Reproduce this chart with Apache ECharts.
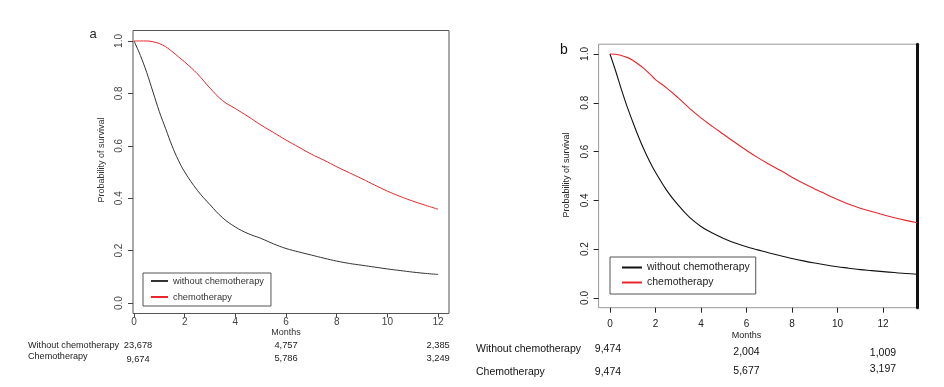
<!DOCTYPE html>
<html><head><meta charset="utf-8">
<script src="https://cdn.jsdelivr.net/npm/echarts@6/dist/echarts.min.js"></script>
<style>html,body{margin:0;padding:0;background:#fff}#c{width:944px;height:387px}</style>
</head><body><div id="c"></div>
<script>
// ---------- data ----------
const monthsA = [0,0.25,0.5,0.75,1,1.25,1.5,1.75,2,2.5,3,3.5,4,4.5,5,5.5,6,6.5,7,7.5,8,8.5,9,9.5,10,10.5,11,11.5,12];
const withoutA = [1.0,0.945,0.88,0.805,0.73,0.665,0.60,0.545,0.50,0.43,0.375,0.325,0.29,0.265,0.247,0.226,0.208,0.195,0.183,0.171,0.16,0.151,0.144,0.137,0.13,0.124,0.118,0.113,0.109];
const chemoA   = [1.0,1.0,1.0,0.997,0.99,0.978,0.96,0.94,0.92,0.875,0.82,0.772,0.742,0.712,0.68,0.651,0.622,0.595,0.568,0.545,0.52,0.497,0.474,0.45,0.427,0.407,0.389,0.373,0.358];

const monthsB = [0,0.25,0.5,0.75,1,1.25,1.5,1.75,2,2.5,3,3.5,4,4.5,5,5.5,6,6.5,7,7.5,8,8.5,9,9.5,10,10.5,11,11.5,12,12.5,13,13.5];
const withoutB = [1.0,0.93,0.855,0.785,0.722,0.662,0.607,0.558,0.515,0.44,0.38,0.33,0.293,0.266,0.244,0.225,0.21,0.197,0.184,0.173,0.162,0.152,0.143,0.135,0.128,0.122,0.116,0.112,0.108,0.104,0.10,0.097];
const chemoB   = [1.0,0.999,0.994,0.986,0.974,0.958,0.94,0.918,0.895,0.86,0.82,0.777,0.738,0.703,0.67,0.637,0.605,0.575,0.548,0.522,0.495,0.47,0.447,0.425,0.403,0.384,0.368,0.354,0.341,0.329,0.318,0.308];

const xTicks = [0,2,4,6,8,10,12];
const yTicks = [0,0.2,0.4,0.6,0.8,1.0];
const seriesNames = ['without chemotherapy','chemotherapy'];
const riskRowNames = ['Without chemotherapy','Chemotherapy'];
const riskTimes = [0,6,12];
const riskWithoutA = ['23,678','4,757','2,385'];
const riskChemoA   = ['9,674','5,786','3,249'];
const riskWithoutB = ['9,474','2,004','1,009'];
const riskChemoB   = ['9,474','5,677','3,197'];

// ---------- styles ----------
const FONT = '"Liberation Sans", Arial, sans-serif';
const BLACK_A = '#333', BLACK_B = '#111', RED = '#e8262b';

function zip(xs, ys){ return xs.map((x,i)=>[x, ys[i]]); }

function xAxisCfg(gi, min, max, color, margin, tickLen){
  return {type:'value', gridIndex:gi, min:min, max:max,
    axisLine:{show:false, onZero:false},
    axisTick:{show:true, customValues:xTicks, length:tickLen, lineStyle:{color:color}},
    axisLabel:{show:true, customValues:xTicks, fontSize:10, color:color, fontFamily:FONT, margin:margin},
    splitLine:{show:false}};
}
function yAxisCfg(gi, color, margin){
  return {type:'value', gridIndex:gi, min:-0.04, max:1.04,
    axisLine:{show:false, onZero:false},
    axisTick:{show:true, customValues:yTicks, length:5, lineStyle:{color:color}},
    axisLabel:{show:true, customValues:yTicks, fontSize:10, color:color, fontFamily:FONT, margin:margin, rotate:90,
      formatter:v=>v.toFixed(1)},
    splitLine:{show:false}};
}
function lineSeries(name, xi, yi, data, color, w){
  return {type:'line', name:name, xAxisIndex:xi, yAxisIndex:yi, data:data, showSymbol:false, symbol:'none',
    smooth:0.4, lineStyle:{color:color, width:w}, itemStyle:{color:color}, silent:true};
}

const chart = echarts.init(document.getElementById('c'));
chart.setOption({
  animation:false,
  backgroundColor:'#fff',
  grid:[
    {left:133, top:30.5, width:316, height:283, show:true, borderColor:'#555', borderWidth:1, backgroundColor:'transparent'},
    {left:598.6, top:44.2, width:318.5, height:263.5, show:true, borderColor:'#999', borderWidth:1, backgroundColor:'transparent'}
  ],
  xAxis:[
    xAxisCfg(0, -0.04, 12.43, '#444', 4, 4),
    xAxisCfg(1, -0.5, 13.5, '#222', 12, 5)
  ],
  yAxis:[
    yAxisCfg(0, '#444', 9),
    yAxisCfg(1, '#222', 8),
    {type:'value', gridIndex:1, position:'right', min:-0.04, max:1.04,
      axisLine:{show:true, onZero:false, lineStyle:{color:'#111', width:3}},
      axisTick:{show:false}, axisLabel:{show:false}, splitLine:{show:false}}
  ],
  legend:[
    {orient:'vertical', left:143, top:273, padding:[2,7,3,8], itemGap:4, itemWidth:17, itemHeight:2, icon:'rect',
      borderColor:'#555', borderWidth:1, selectedMode:false,
      textStyle:{fontSize:9.3, color:'#333', fontFamily:FONT, lineHeight:12},
      data:[{name:seriesNames[0], itemStyle:{color:BLACK_A}},{name:seriesNames[1], itemStyle:{color:RED}}]},
    {orient:'vertical', left:610, top:257, padding:[4,6,5,12], itemGap:2, itemWidth:20, itemHeight:2, icon:'rect',
      borderColor:'#555', borderWidth:1, selectedMode:false,
      textStyle:{fontSize:10.5, color:'#222', fontFamily:FONT, lineHeight:13},
      data:[{name:seriesNames[0], itemStyle:{color:BLACK_B}},{name:seriesNames[1], itemStyle:{color:RED}}]}
  ],
  series:[
    lineSeries(seriesNames[0], 0, 0, zip(monthsA, withoutA), BLACK_A, 1),
    lineSeries(seriesNames[1], 0, 0, zip(monthsA, chemoA), RED, 1),
    lineSeries(seriesNames[0], 1, 1, zip(monthsB, withoutB), BLACK_B, 1.1),
    lineSeries(seriesNames[1], 1, 1, zip(monthsB, chemoB), RED, 1.1)
  ]
});

// ---------- text overlays (positions from the axes) ----------
function txt(x, y, s, size, color, align, rot){
  return {type:'text', x:x, y:y, rotation:rot||0, silent:true,
    style:{text:s, fontSize:size, fontFamily:FONT, fill:color, align:align||'center', verticalAlign:'middle'}};
}
const g = [];
g.push(txt(93, 34, 'a', 13, '#222'));
g.push(txt(564, 50, 'b', 14, '#111'));
g.push(txt(102, 160, 'Probability of survival', 9, '#333', 'center', Math.PI/2));
g.push(txt(567, 175, 'Probability of survival', 9, '#222', 'center', Math.PI/2));
const xa6 = chart.convertToPixel({xAxisIndex:0}, 6);
const xb6 = chart.convertToPixel({xAxisIndex:1}, 6);
g.push(txt(xa6, 333, 'Months', 9, '#333'));
g.push(txt(xb6, 336, 'Months', 9, '#222'));
g.push(txt(28, 345, riskRowNames[0], 9.1, '#222', 'left'));
g.push(txt(28, 356, riskRowNames[1], 9.1, '#222', 'left'));
g.push(txt(476, 349, riskRowNames[0], 10.5, '#111', 'left'));
g.push(txt(476, 372, riskRowNames[1], 10.5, '#111', 'left'));
const rowYA = [[345,345,345],[359,358,358]];
const rowYB = [[349,352,353],[372,371,369]];
riskTimes.forEach((t,i)=>{
  const pa = chart.convertToPixel({xAxisIndex:0}, t) + (i===0 ? 4 : 0);
  const pb = chart.convertToPixel({xAxisIndex:1}, t) + (i===0 ? -2 : 0);
  g.push(txt(pa, rowYA[0][i], riskWithoutA[i], 9.3, '#222'));
  g.push(txt(pa, rowYA[1][i], riskChemoA[i], 9.3, '#222'));
  g.push(txt(pb, rowYB[0][i], riskWithoutB[i], 10.5, '#111'));
  g.push(txt(pb, rowYB[1][i], riskChemoB[i], 10.5, '#111'));
});
chart.setOption({graphic:{elements:g}});
</script>
</body></html>
